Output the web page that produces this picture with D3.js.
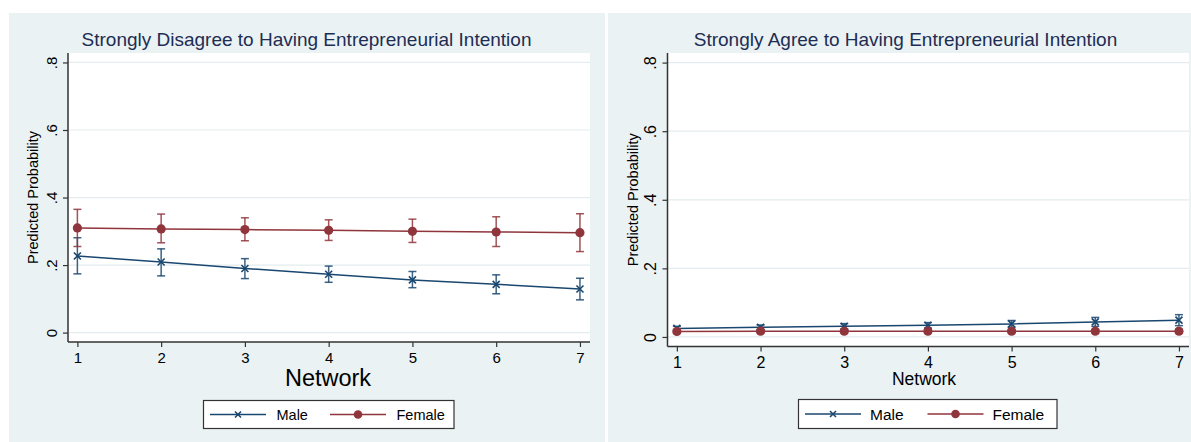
<!DOCTYPE html>
<html><head><meta charset="utf-8">
<script src="https://cdn.jsdelivr.net/npm/d3@7"></script>
<style>
html,body{margin:0;padding:0;background:#fff;}
svg{display:block;font-family:"Liberation Sans",Arial,Helvetica,sans-serif;}
</style></head>
<body>
<svg id="chart" width="1191" height="442"></svg>
<script>
// ---------- data ----------
const network = [1, 2, 3, 4, 5, 6, 7];
const yTicks = [0, 0.2, 0.4, 0.6, 0.8];
const yTickLabels = ["0", ".2", ".4", ".6", ".8"];
const seriesNames = ["Male", "Female"];

// Panel 1: Strongly Disagree
const disagreeMale   = [0.227, 0.209, 0.190, 0.173, 0.156, 0.143, 0.129];
const disagreeMaleLo = [0.174, 0.168, 0.160, 0.149, 0.133, 0.115, 0.097];
const disagreeMaleHi = [0.281, 0.248, 0.219, 0.197, 0.181, 0.171, 0.161];
const disagreeFemale   = [0.310, 0.307, 0.305, 0.303, 0.300, 0.298, 0.296];
const disagreeFemaleLo = [0.255, 0.266, 0.272, 0.273, 0.267, 0.255, 0.240];
const disagreeFemaleHi = [0.365, 0.351, 0.340, 0.334, 0.336, 0.343, 0.352];

// Panel 2: Strongly Agree
const agreeMale   = [0.025, 0.028, 0.031, 0.034, 0.038, 0.044, 0.049];
const agreeMaleLo = [0.019, 0.021, 0.023, 0.026, 0.028, 0.031, 0.033];
const agreeMaleHi = [0.031, 0.035, 0.039, 0.042, 0.048, 0.057, 0.065];
const agreeFemale   = [0.016, 0.017, 0.017, 0.017, 0.017, 0.017, 0.017];
const agreeFemaleLo = [0.011, 0.012, 0.012, 0.012, 0.012, 0.012, 0.011];
const agreeFemaleHi = [0.021, 0.022, 0.022, 0.022, 0.022, 0.022, 0.023];

const titles = ["Strongly Disagree to Having Entrepreneurial Intention",
                "Strongly Agree to Having Entrepreneurial Intention"];
const xTitle = "Network";
const yTitle = "Predicted Probability";

// ---------- styles / layout ----------
const MALE = "#1a476f", FEMALE = "#90353b";
const BG = "#eaf2f3";
const svg = d3.select("#chart");

const panels = [
  { title: titles[0], male: disagreeMale, maleLo: disagreeMaleLo, maleHi: disagreeMaleHi,
    female: disagreeFemale, femaleLo: disagreeFemaleLo, femaleHi: disagreeFemaleHi,
    bg: [9, 13, 596, 429], plot: {l: 68, r: 590, t: 53, b: 342},
    titleX: 306.5, titleY: 46, tick: 15, yTickOff: 11, ytitleBase: 37.5, xtitleSize: 23.5, xtitleY: 386, xtitleX: 328,
    legend: {x: 203.5, y: 400.5, w: 250.5, h: 28, fs: 14.5, lineL: 6.5, itemW: 120, textOff: 73} },
  { title: titles[1], male: agreeMale, maleLo: agreeMaleLo, maleHi: agreeMaleHi,
    female: agreeFemale, femaleLo: agreeFemaleLo, femaleHi: agreeFemaleHi,
    bg: [608, 13, 583, 429], plot: {l: 667.5, r: 1189, t: 53, b: 346.5},
    titleX: 905.5, titleY: 46, tick: 16, yTickOff: 11.5, ytitleBase: 637.5, xtitleSize: 17.5, xtitleY: 385, xtitleX: 924,
    legend: {x: 798.5, y: 399.5, w: 258.5, h: 29, fs: 15.5, lineL: 6.5, itemW: 122.5, textOff: 71.5} }
];

panels.forEach(p => {
  const g = svg.append("g");
  g.append("rect").attr("x", p.bg[0]).attr("y", p.bg[1]).attr("width", p.bg[2]).attr("height", p.bg[3]).attr("fill", BG);
  const P = p.plot;
  g.append("rect").attr("x", P.l).attr("y", P.t).attr("width", P.r - P.l).attr("height", P.b - P.t).attr("fill", "#fff");

  const x = d3.scaleLinear().domain([0.888, 7.12]).range([P.l, P.r]);
  const y = d3.scaleLinear().domain([-0.0278, 0.828]).range([P.b, P.t]);

  // gridlines
  g.append("g").selectAll("line").data(yTicks).join("line")
    .attr("x1", P.l).attr("x2", P.r).attr("y1", d => y(d)).attr("y2", d => y(d))
    .attr("stroke", "#e3ecee").attr("stroke-width", 1.2);

  // y axis
  const yAxis = d3.axisLeft(y).tickValues(yTicks).tickFormat((d, i) => yTickLabels[i]).tickSize(5).tickPadding(6);
  const ya = g.append("g").attr("transform", `translate(${P.l},0)`).call(yAxis);
  ya.select(".domain").attr("d", `M0,${P.t}V${P.b}`).attr("stroke", "#333").attr("stroke-width", 1.5);
  ya.selectAll(".tick line").attr("stroke", "#333").attr("stroke-width", 1.2);
  ya.selectAll(".tick text").attr("font-size", p.tick).attr("fill", "#000")
    .attr("font-family", '"Liberation Sans",Arial,sans-serif')
    .attr("text-anchor", "middle").attr("x", 0).attr("dy", 0)
    .attr("transform", `translate(-${p.yTickOff},0) rotate(-90)`);

  // x axis
  const xAxis = d3.axisBottom(x).tickValues(network).tickFormat(d3.format("d")).tickSize(5).tickPadding(5);
  const xa = g.append("g").attr("transform", `translate(0,${P.b})`).call(xAxis);
  xa.select(".domain").attr("d", `M${P.l},0H${P.r}`).attr("stroke", "#333").attr("stroke-width", 1.5);
  xa.selectAll(".tick line").attr("stroke", "#333").attr("stroke-width", 1.2);
  xa.selectAll(".tick text").attr("font-size", p.tick).attr("fill", "#000")
    .attr("font-family", '"Liberation Sans",Arial,sans-serif');

  // titles
  g.append("text").attr("x", p.titleX).attr("y", p.titleY).attr("text-anchor", "middle")
    .attr("font-size", 19).attr("fill", "#1e2d53").text(p.title);
  g.append("text").attr("transform", `translate(${p.ytitleBase},${(P.t + P.b) / 2}) rotate(-90)`)
    .attr("text-anchor", "middle").attr("font-size", 14.5).attr("fill", "#000").text(yTitle);
  g.append("text").attr("x", p.xtitleX).attr("y", p.xtitleY).attr("text-anchor", "middle")
    .attr("font-size", p.xtitleSize).attr("fill", "#000").text(xTitle);

  // series
  const series = [
    {name: seriesNames[0], v: p.male, lo: p.maleLo, hi: p.maleHi, color: MALE, sym: "x"},
    {name: seriesNames[1], v: p.female, lo: p.femaleLo, hi: p.femaleHi, color: FEMALE, sym: "o"}
  ];
  const line = d3.line().x(d => x(d[0])).y(d => y(d[1]));
  series.forEach(s => {
    const cg = g.append("g").attr("stroke", s.color).attr("stroke-width", 1.5).attr("stroke-opacity", 0.85);
    network.forEach((n, i) => {
      cg.append("line").attr("x1", x(n)).attr("x2", x(n)).attr("y1", y(s.lo[i])).attr("y2", y(s.hi[i]));
      cg.append("line").attr("x1", x(n) - 4).attr("x2", x(n) + 4).attr("y1", y(s.lo[i])).attr("y2", y(s.lo[i]));
      cg.append("line").attr("x1", x(n) - 4).attr("x2", x(n) + 4).attr("y1", y(s.hi[i])).attr("y2", y(s.hi[i]));
    });
  });
  series.forEach(s => {
    g.append("path").datum(network.map((n, i) => [n, s.v[i]])).attr("d", line)
      .attr("fill", "none").attr("stroke", s.color).attr("stroke-width", 1.5);
    network.forEach((n, i) => {
      if (s.sym === "o") {
        g.append("circle").attr("cx", x(n)).attr("cy", y(s.v[i])).attr("r", 4.6).attr("fill", s.color);
      } else {
        const cx = x(n), cy = y(s.v[i]), k = 3.5;
        g.append("path").attr("d", `M${cx - k},${cy - k}L${cx + k},${cy + k}M${cx - k},${cy + k}L${cx + k},${cy - k}`)
          .attr("stroke", s.color).attr("stroke-width", 1.6);
      }
    });
  });

  // legend
  const L = p.legend;
  const lg = g.append("g");
  lg.append("rect").attr("x", L.x).attr("y", L.y).attr("width", L.w).attr("height", L.h)
    .attr("fill", "#fff").attr("stroke", "#333").attr("stroke-width", 1.2);
  series.forEach((s, i) => {
    const x0 = L.x + L.lineL + i * L.itemW, cy = L.y + L.h / 2;
    lg.append("line").attr("x1", x0).attr("x2", x0 + 56).attr("y1", cy).attr("y2", cy)
      .attr("stroke", s.color).attr("stroke-width", 1.5);
    const mx = x0 + 28;
    if (s.sym === "o") lg.append("circle").attr("cx", mx).attr("cy", cy).attr("r", 4.3).attr("fill", s.color);
    else lg.append("path").attr("d", `M${mx - 3},${cy - 3}L${mx + 3},${cy + 3}M${mx - 3},${cy + 3}L${mx + 3},${cy - 3}`)
      .attr("stroke", s.color).attr("stroke-width", 1.6);
    lg.append("text").attr("x", x0 + L.textOff - 6.5).attr("y", cy + L.fs * 0.36)
      .attr("font-size", L.fs).attr("fill", "#000").text(s.name);
  });
});
</script>
</body></html>
